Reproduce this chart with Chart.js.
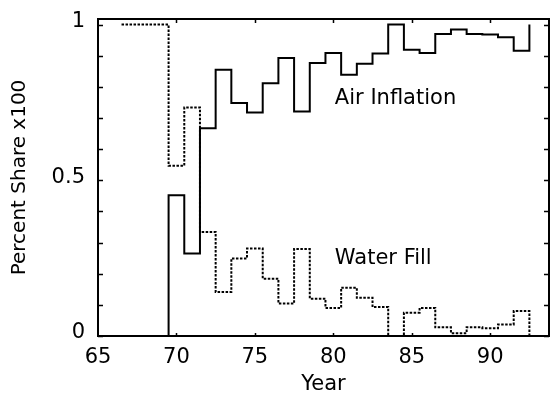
<!DOCTYPE html>
<html>
<head>
<meta charset="utf-8">
<script src="https://cdn.jsdelivr.net/npm/chart.js@4"></script>
<style>
html,body{margin:0;padding:0;background:#fff;}
#wrap{width:551px;height:394px;}
</style>
</head>
<body>
<div id="wrap"><canvas id="c" width="551" height="394"></canvas></div>
<script>
// ---- data ----
const years = [67,68,69,70,71,72,73,74,75,76,77,78,79,80,81,82,83,84,85,86,87,88,89,90,91,92,93];
const airInflation = [0,0,0,0.452,0.265,0.667,0.855,0.748,0.718,0.812,0.893,0.721,0.877,0.909,0.839,0.874,0.907,1.0,0.919,0.909,0.970,0.984,0.970,0.968,0.959,0.916,1.0];
const waterFill = [1,1,1,0.547,0.734,0.334,0.141,0.249,0.281,0.184,0.104,0.279,0.120,0.090,0.155,0.123,0.093,0,0.075,0.090,0.028,0.009,0.028,0.025,0.037,0.080,0];
const xTickLabels = [65,70,75,80,85,90];
const yTickLabels = [0,0.5,1];
const yMinorTicks = [0,0.1,0.2,0.3,0.4,0.5,0.6,0.7,0.8,0.9,1];
const seriesNames = ['Air Inflation','Water Fill'];

// step edges: each yearly value spans year-0.5 .. year+0.5
function stepPoints(vals){ return years.map((yr,i)=>({x: yr-0.5, y: vals[i]})); }

const FONT = 'DejaVu Sans';

const annotations = [
  {text: seriesNames[0], x: 80.1, y: 0.763},
  {text: seriesNames[1], x: 80.1, y: 0.25}
];

const framePlugin = {
  id: 'frame',
  afterDatasetsDraw(chart){
    const {ctx, chartArea:{left,right,top,bottom}, scales:{x,y}} = chart;
    ctx.save();
    ctx.strokeStyle = '#000';
    ctx.lineWidth = 2;
    ctx.strokeRect(left, top, right-left, bottom-top);
    ctx.lineWidth = 1.5;
    ctx.beginPath();
    yMinorTicks.forEach(v=>{
      const py = Math.round(y.getPixelForValue(v))+0.5;
      ctx.moveTo(left, py); ctx.lineTo(left+5, py);
      ctx.moveTo(right, py); ctx.lineTo(right-5, py);
    });
    xTickLabels.slice(1).forEach(v=>{
      const px = Math.round(x.getPixelForValue(v))+0.5;
      ctx.moveTo(px, bottom); ctx.lineTo(px, bottom-3);
      ctx.moveTo(px, top); ctx.lineTo(px, top+4);
    });
    ctx.stroke();
    ctx.fillStyle = '#000';
    ctx.font = '21px "' + FONT + '"';
    ctx.textAlign = 'left';
    ctx.textBaseline = 'middle';
    annotations.forEach(a=>{
      ctx.fillText(a.text, x.getPixelForValue(a.x), y.getPixelForValue(a.y));
    });
    ctx.restore();
  }
};

new Chart(document.getElementById('c'), {
  type: 'line',
  data: {
    datasets: [
      {
        label: seriesNames[0],
        data: stepPoints(airInflation),
        stepped: 'before',
        borderColor: '#000',
        borderWidth: 2,
        pointRadius: 0,
        fill: false,
        clip: false
      },
      {
        label: seriesNames[1],
        data: stepPoints(waterFill),
        stepped: 'before',
        borderColor: '#000',
        borderWidth: 2,
        borderDash: [2.5, 1.5],
        pointRadius: 0,
        fill: false,
        clip: false
      }
    ]
  },
  options: {
    responsive: false,
    animation: false,
    devicePixelRatio: 1,
    layout: { padding: { top: 19, right: 2, left: 0, bottom: 0 } },
    plugins: { legend: { display: false }, tooltip: { enabled: false } },
    scales: {
      x: {
        type: 'linear',
        min: 65,
        max: 93.75,
        afterBuildTicks: s => { s.ticks = xTickLabels.map(v=>({value:v})); },
        afterFit: s => { s.height = 58; s.paddingLeft = 0; s.paddingRight = 0; },
        grid: { display: false, drawTicks: false },
        border: { display: false },
        ticks: { color: '#000', font: { family: FONT, size: 21 }, padding: 9, maxRotation: 0, autoSkip: false },
        title: { display: true, text: 'Year', color: '#000', font: { family: FONT, size: 21 }, padding: { top: 0, bottom: -3 } }
      },
      y: {
        type: 'linear',
        min: 0,
        max: 1.018,
        afterBuildTicks: s => { s.ticks = yTickLabels.map(v=>({value:v})); },
        afterFit: s => { s.width = 98; s.paddingTop = 0; s.paddingBottom = 0; },
        grid: { display: false, drawTicks: false },
        border: { display: false },
        ticks: { color: '#000', font: { family: FONT, size: 21 }, padding: 13, labelOffset: -3,
                 callback: v => String(v) },
        title: { display: true, text: 'Percent Share x100', color: '#000', font: { family: FONT, size: 20 }, padding: { top: 8, bottom: 0 } }
      }
    }
  },
  plugins: [framePlugin]
});
</script>
</body>
</html>
